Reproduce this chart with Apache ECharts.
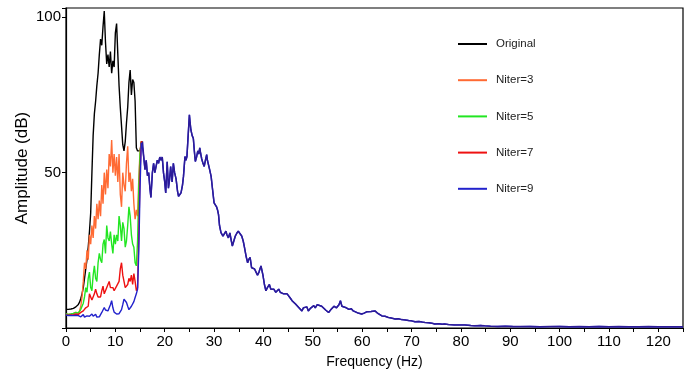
<!DOCTYPE html>
<html>
<head>
<meta charset="utf-8">
<script src="https://cdn.jsdelivr.net/npm/echarts@6/dist/echarts.min.js"></script>
<style>
  html, body { margin: 0; padding: 0; background: #fff; }
  #chart { width: 686px; height: 374px; }
</style>
</head>
<body>
<div id="chart"></div>
<script>
// frequency grid (Hz) for the low band, where the five curves differ
var headFreq = [0, 0.25, 0.5, 0.75, 1, 1.25, 1.5, 1.75, 2, 2.25, 2.5, 2.75, 3, 3.25, 3.5, 3.75,
  4, 4.25, 4.5, 4.75, 5, 5.25, 5.5, 5.75, 6, 6.25, 6.5, 6.75, 7, 7.25, 7.5, 7.75,
  8, 8.25, 8.5, 8.75, 9, 9.25, 9.5, 9.75, 10, 10.25, 10.5, 10.75, 11, 11.25, 11.5, 11.75,
  12, 12.25, 12.5, 12.75, 13, 13.25, 13.5, 13.75, 14, 14.25, 14.5, 14.75, 15, 15.25, 15.5];

var original = [6, 6, 6, 6.1, 6.1, 6.2, 6.3, 6.5, 6.8, 7.2, 7.6, 8.3, 9.5, 11, 13, 16,
  19, 22, 26, 31, 37, 50, 62, 69, 73, 78, 82, 88, 93, 91, 97, 102,
  92, 85, 88, 84, 89, 82, 86, 84, 95, 98, 88, 78, 71, 65, 59, 57,
  60, 66, 71, 79, 83, 75, 80, 79, 73, 58, 57, 57.5, 57, 59.5, 60];

var niter3 = [4.5, 4.5, 4.4, 4.4, 4.5, 4.6, 4.7, 4.8, 5, 5.3, 4.8, 5.5, 7, 10, 15, 21,
  19, 25, 22, 30, 27, 33, 29, 36, 32, 40, 35, 41, 36, 46, 40, 50,
  43, 51, 45, 56, 52, 60.5, 50, 56, 49, 55, 47, 56, 43, 39, 50, 46,
  44, 53, 58.5, 47, 50, 44, 48, 40, 35, 38, 36, 48, 57, 60, 60];

var niter5 = [4.5, 4.5, 4.4, 4.4, 4.5, 4.6, 4.7, 4.8, 5, 5.2, 4.8, 5.3, 6, 7, 8, 10,
  13, 11.5, 16, 18, 13, 12, 17, 20, 16, 15, 21, 24, 22, 21, 27, 28.5,
  24, 33, 29, 28, 31, 27, 24, 30, 27, 30, 28, 36, 33, 28, 34, 32,
  26, 28, 33, 39, 36, 30, 27, 26, 21, 20, 28, 45, 56, 60, 60];

var niter7 = [4.2, 4.2, 4.1, 4.1, 4.2, 4.2, 4.3, 4.4, 4.5, 4.6, 4.4, 4.8, 5, 5.3, 5.5, 6,
  6.5, 7, 7, 11, 10, 9, 8.8, 11, 12.5, 11, 10, 9.5, 10, 12, 13.5, 11,
  12, 12, 14, 15, 13, 12.5, 13, 12, 12.5, 13.5, 13.5, 15, 19, 21, 17, 15,
  13, 12.5, 14, 16, 15, 17, 14, 17.5, 15, 12, 13, 30, 50, 60, 60];

var niter9 = [4.2, 4.2, 4, 4, 4, 4.1, 4, 4, 4.1, 4.2, 4, 3.8, 3.6, 3.8, 4.3, 3.5,
  3.6, 3.9, 3.4, 3.8, 3.6, 4.5, 3.8, 3.6, 4.4, 3.5, 4, 3.6, 4.2, 5, 5.5, 6.6,
  5.8, 6, 5.5, 6.5, 7.5, 8.8, 6.5, 5.1, 4.8, 4.5, 4.4, 4.6, 5.2, 5.9, 7.5, 9.3,
  9, 8.2, 7, 5.9, 6.5, 7, 7.5, 8.5, 9.8, 11, 12.5, 25, 45, 59.6, 58];

// shared spectrum above ~15.5 Hz (all curves coincide there)
var tailFreq = [15.75, 16, 16.25, 16.5, 16.75, 17, 17.2, 17.5, 17.75, 18, 18.25, 18.5, 18.75, 19, 19.25, 19.5, 19.75,
  20, 20.2, 20.5, 20.75, 21, 21.2, 21.5, 21.75, 22, 22.3, 22.6, 22.8, 23.1, 23.3, 23.6, 23.8,
  24.1, 24.3, 24.5, 24.75, 25, 25.15, 25.3, 25.55, 25.8, 26, 26.2, 26.45, 26.7, 26.9, 27.1, 27.3,
  27.5, 27.75, 28, 28.25, 28.5, 28.65, 28.8, 29.1, 29.4, 29.7, 30, 30.25, 30.5, 30.7, 30.9, 31.1,
  31.4, 31.6, 31.8, 32.1, 32.4, 32.6, 32.9, 33.2, 33.5, 33.7, 34, 34.3, 34.6, 34.9, 35.2, 35.6,
  35.9, 36.1, 36.5, 36.8, 37, 37.3, 37.6, 37.9, 38.2, 38.5, 38.8, 39.1, 39.5, 39.7, 39.9, 40.2,
  40.5, 40.8, 41.2, 41.5, 41.8, 42.1, 42.5, 42.8, 43.1, 43.4, 43.8, 44.1, 44.5, 44.8, 45.1, 45.5,
  45.8, 46.2, 46.5, 46.8, 47.1, 47.4, 47.8, 48.1, 48.5, 48.8, 49.1, 49.5, 49.8, 50.2, 50.5, 50.9,
  51.3, 51.8, 52.2, 52.6, 53.2, 53.7, 54.3, 54.8, 55.3, 55.6, 55.9, 56.3, 56.8, 57.3, 57.8, 58.2,
  58.6, 59.2, 59.9, 60.4, 60.9, 61.3, 61.8, 62.2, 62.6, 63.1, 63.5, 64, 64.6, 65.3, 65.9, 66.7,
  67.3, 68, 68.7, 69.4, 70, 70.7, 71.5, 72.2, 72.7, 73.5, 74.2, 74.7, 75.5, 76.2, 76.7, 77.5,
  78.7, 80, 80.8, 82, 82.8, 84, 84.8, 86, 87.5, 89, 90.5, 92, 94, 96, 98, 100,
  102, 104, 106, 108, 110, 112, 114, 116, 118, 120, 122, 125];

var tailAmp = [55, 51, 54, 49, 50, 45, 42, 50, 53, 50, 52, 54, 53, 55, 54, 55, 50,
  47, 43.5, 53.5, 45, 48, 52, 47, 53, 50, 48, 44, 42.4, 43, 43.5, 46, 48.8,
  55.2, 54, 55.2, 62, 68.6, 66, 63.8, 62, 61, 57, 53.6, 55, 57, 56, 58, 56,
  54.4, 53, 52, 54, 55.8, 54, 53.5, 51, 48.8, 44.5, 40.3, 40, 39, 38, 36.5, 33,
  30.7, 31, 29.6, 30, 31.2, 30, 29, 30.6, 28, 26.4, 28, 29.6, 30.5, 31.2, 30.5, 29.6,
  28, 26.4, 23, 21, 22, 22.7, 19.4, 20, 19, 18, 17, 18, 20, 18.5, 17, 14,
  12, 13, 14, 12.5, 12, 12.5, 11.5, 12, 12.5, 11.5, 12, 11, 10.4, 11, 10.4, 9.5,
  8.8, 8.2, 7.7, 7.2, 6.7, 6.2, 5.5, 6.5, 6, 6.8, 5.5, 6.3, 6.7, 7.2, 6.5, 7.5,
  7.8, 7, 6.5, 5.8, 5, 6, 7, 6.5, 7.5, 8.8, 7, 7.3, 6.5, 6, 6.2, 5.5,
  5, 4.8, 4.5, 4.8, 5.2, 5, 5.3, 5.6, 5.5, 4.8, 4.3, 3.9, 3.8, 3.4, 3.2, 2.9,
  3, 2.7, 2.6, 2.4, 2.3, 2, 2.1, 1.9, 1.8, 1.7, 1.5, 1.3, 1.4, 1.2, 1.3, 1.1,
  1, 1, 1, 0.8, 0.7, 0.8, 0.7, 0.6, 0.5, 0.6, 0.5, 0.45, 0.5, 0.4, 0.45, 0.5,
  0.4, 0.45, 0.4, 0.5, 0.4, 0.45, 0.4, 0.4, 0.45, 0.4, 0.4, 0.4];

var seriesNames = ['Original', 'Niter=3', 'Niter=5', 'Niter=7', 'Niter=9'];
var seriesColors = ['#000000', '#ff6a33', '#22e622', '#ee1111', '#2222cc'];
var xTicks = [0, 10, 20, 30, 40, 50, 60, 70, 80, 90, 100, 110, 120];
var yTicks = [50, 100];

function pairs(xs, ys) {
  return xs.map(function (x, i) { return [x, ys[i]]; });
}

var heads = [original, niter3, niter5, niter7, niter9];
var tailPairs = pairs(tailFreq, tailAmp);

var series = heads.map(function (vals, k) {
  var data = pairs(headFreq, vals);
  if (k === 4) data = data.concat(tailPairs);
  return {
    name: seriesNames[k],
    type: 'line',
    data: data,
    symbol: 'none',
    silent: true,
    color: seriesColors[k],
    lineStyle: { width: 1.4, color: seriesColors[k] },
    z: 2 + k
  };
});
// overlapping curves above 15 Hz look indigo in the figure
series.push({
  name: 'overlap',
  type: 'line',
  data: [[15.5, 60]].concat(tailPairs),
  symbol: 'none',
  silent: true,
  lineStyle: { width: 1.5, color: '#2c1b98' },
  z: 10
});

var chart = echarts.init(document.getElementById('chart'), null, { renderer: 'canvas' });
chart.setOption({
  animation: false,
  backgroundColor: '#ffffff',
  textStyle: { fontFamily: 'Liberation Sans' },
  grid: {
    left: 66, right: 2, top: 8, bottom: 45,
    show: true, borderColor: '#000', borderWidth: 1.2
  },
  legend: {
    data: seriesNames,
    orient: 'vertical',
    left: 458,
    top: 38,
    padding: 0,
    itemWidth: 29,
    itemHeight: 2,
    itemGap: 24.2,
    icon: 'rect',
    selectedMode: false,
    textStyle: { fontSize: 11.5, color: '#222', fontFamily: 'Liberation Sans', padding: [0, 0, 0, 4] }
  },
  xAxis: {
    type: 'value',
    min: 0,
    max: 125,
    interval: 10,
    name: 'Frequency (Hz)',
    nameLocation: 'middle',
    nameGap: 27,
    nameMoveOverlap: false,
    nameTextStyle: { fontSize: 14, color: '#000' },
    axisLine: { lineStyle: { color: '#000', width: 1.2 } },
    axisTick: { show: true, length: 4, lineStyle: { color: '#000' } },
    minorTick: { show: true, splitNumber: 2, length: 4, lineStyle: { color: '#000' } },
    splitLine: { show: false },
    axisLabel: {
      fontSize: 15, color: '#000', margin: 6,
      formatter: function (v) { return xTicks.indexOf(v) >= 0 ? String(v) : ''; }
    }
  },
  yAxis: {
    type: 'value',
    min: 0,
    max: 103,
    interval: 50,
    name: 'Amplitude (dB)',
    nameLocation: 'middle',
    nameGap: 35,
    nameMoveOverlap: false,
    nameTextStyle: { fontSize: 17, color: '#000' },
    axisLine: { show: true, lineStyle: { color: '#000', width: 1.2 } },
    axisTick: { show: true, length: 4, lineStyle: { color: '#000' } },
    splitLine: { show: false },
    axisLabel: {
      fontSize: 15, color: '#000', margin: 5,
      formatter: function (v) { return yTicks.indexOf(v) >= 0 ? String(v) : ''; }
    }
  },
  series: series
});
</script>
</body>
</html>
